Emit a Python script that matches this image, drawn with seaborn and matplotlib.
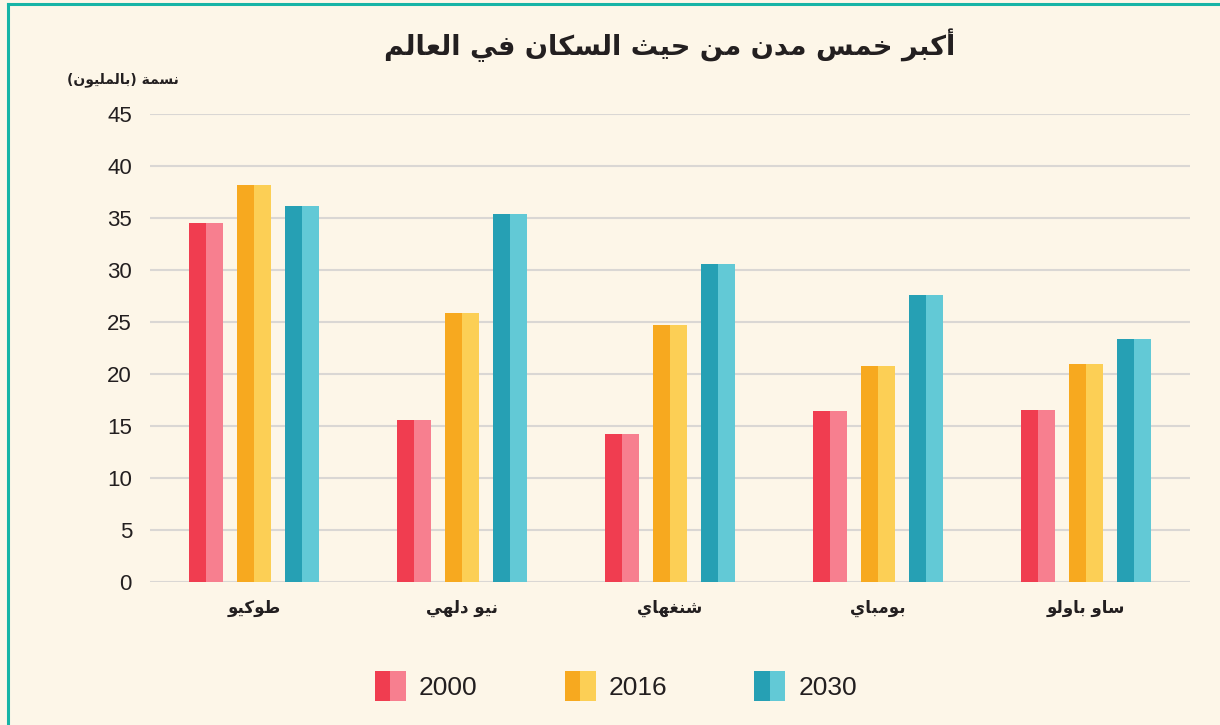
import matplotlib
matplotlib.use("Agg")
import matplotlib.pyplot as plt
from matplotlib.patches import Rectangle
from matplotlib.lines import Line2D
from matplotlib.legend_handler import HandlerTuple
import pandas as pd
import seaborn as sns

# ---- data ----
title_text = "أكبر خمس مدن من حيث السكان في العالم"
unit_text = "نسمة (بالمليون)"
cities = ["طوكيو", "نيو دلهي", "شنغهاي", "بومباي", "ساو باولو"]
years = ["2000", "2016", "2030"]
pop_2000 = [34.5, 15.6, 14.2, 16.4, 16.5]
pop_2016 = [38.2, 25.9, 24.7, 20.8, 21.0]
pop_2030 = [36.2, 35.4, 30.6, 27.6, 23.4]
y_ticks = [0, 5, 10, 15, 20, 25, 30, 35, 40, 45]

dark_colors = ["#f03d50", "#f7a91f", "#26a0b4"]
light_colors = ["#f77f8f", "#fccf55", "#62c9d6"]
bg = "#fdf6e8"
ink = "#231f20"
grid_c = "#dad7d4"
frame_c = "#17b4a6"

# ---- Arabic contextual shaping (isolated, final, initial, medial) ----
FORMS = {
    "\u0627": ("\uFE8D", "\uFE8E", None, None),
    "\u0623": ("\uFE83", "\uFE84", None, None),
    "\u0628": ("\uFE8F", "\uFE90", "\uFE91", "\uFE92"),
    "\u0629": ("\uFE93", "\uFE94", None, None),
    "\u062A": ("\uFE95", "\uFE96", "\uFE97", "\uFE98"),
    "\u062B": ("\uFE99", "\uFE9A", "\uFE9B", "\uFE9C"),
    "\u062D": ("\uFEA1", "\uFEA2", "\uFEA3", "\uFEA4"),
    "\u062E": ("\uFEA5", "\uFEA6", "\uFEA7", "\uFEA8"),
    "\u062F": ("\uFEA9", "\uFEAA", None, None),
    "\u0631": ("\uFEAD", "\uFEAE", None, None),
    "\u0633": ("\uFEB1", "\uFEB2", "\uFEB3", "\uFEB4"),
    "\u0634": ("\uFEB5", "\uFEB6", "\uFEB7", "\uFEB8"),
    "\u0637": ("\uFEC1", "\uFEC2", "\uFEC3", "\uFEC4"),
    "\u0639": ("\uFEC9", "\uFECA", "\uFECB", "\uFECC"),
    "\u063A": ("\uFECD", "\uFECE", "\uFECF", "\uFED0"),
    "\u0641": ("\uFED1", "\uFED2", "\uFED3", "\uFED4"),
    "\u0643": ("\uFED9", "\uFEDA", "\uFEDB", "\uFEDC"),
    "\u0644": ("\uFEDD", "\uFEDE", "\uFEDF", "\uFEE0"),
    "\u0645": ("\uFEE1", "\uFEE2", "\uFEE3", "\uFEE4"),
    "\u0646": ("\uFEE5", "\uFEE6", "\uFEE7", "\uFEE8"),
    "\u0647": ("\uFEE9", "\uFEEA", "\uFEEB", "\uFEEC"),
    "\u0648": ("\uFEED", "\uFEEE", None, None),
    "\u064A": ("\uFEF1", "\uFEF2", "\uFEF3", "\uFEF4"),
}
LAM_ALEF = {"\u0627": ("\uFEFB", "\uFEFC"), "\u0623": ("\uFEF7", "\uFEF8")}
MIRROR = {"(": ")", ")": "("}


def joins_forward(ch):
    return ch in FORMS and FORMS[ch][2] is not None


def shape_rtl(text):
    out = []
    i = 0
    n = len(text)
    while i < n:
        ch = text[i]
        prev = text[i - 1] if i > 0 else ""
        linked_prev = joins_forward(prev) and ch in FORMS
        if ch == "\u0644" and i + 1 < n and text[i + 1] in LAM_ALEF:
            out.append(LAM_ALEF[text[i + 1]][1 if linked_prev else 0])
            i += 2
            continue
        if ch in FORMS:
            nxt = text[i + 1] if i + 1 < n else ""
            linked_next = joins_forward(ch) and nxt in FORMS
            iso, fin, ini, med = FORMS[ch]
            if linked_prev and linked_next:
                out.append(med)
            elif linked_prev:
                out.append(fin)
            elif linked_next:
                out.append(ini)
            else:
                out.append(iso)
        else:
            out.append(ch)
        i += 1
    return "".join(MIRROR.get(c, c) for c in reversed(out))


city_labels = [shape_rtl(c) for c in cities]

df = pd.DataFrame({
    "city": city_labels * 3,
    "year": [y for y in years for _ in cities],
    "pop": pop_2000 + pop_2016 + pop_2030,
})

# ---- figure ----
sns.set_style("white")
plt.rcParams["font.family"] = ["Liberation Sans", "DejaVu Sans"]

fig = plt.figure(figsize=(12.2, 7.25), dpi=100, facecolor=bg)
ax = fig.add_axes([150 / 1220, 1 - 582 / 725, 1040 / 1220, 468 / 725])
ax.set_facecolor(bg)

sns.barplot(
    data=df, x="city", y="pop", hue="year", hue_order=years,
    palette=dict(zip(years, dark_colors)), saturation=1,
    width=0.692, gap=0.29, legend=False, linewidth=0, zorder=3, ax=ax,
)

# lighter right half of every bar
for container, light in zip(ax.containers, light_colors):
    for bar in container:
        x0, w, h = bar.get_x(), bar.get_width(), bar.get_height()
        ax.add_patch(Rectangle((x0 + w / 2, 0), w / 2, h, facecolor=light,
                               linewidth=0, zorder=3.5))

ax.set_xlim(-0.5, 4.5)
ax.set_ylim(0, 45)
ax.set_yticks(y_ticks)
ax.set_yticklabels([str(t) for t in y_ticks])
ax.grid(axis="y", color=grid_c, linewidth=1.5, zorder=0)
ax.grid(axis="x", visible=False)
ax.set_axisbelow(True)
for s in ax.spines.values():
    s.set_visible(False)
ax.set_xlabel("")
ax.set_ylabel("")
ax.tick_params(axis="y", length=0, pad=13, labelsize=16, labelcolor=ink)
ax.tick_params(axis="x", length=0, pad=12, labelcolor=ink)
for lab in ax.get_xticklabels():
    lab.set_fontfamily("DejaVu Sans")
    lab.set_fontweight("bold")
    lab.set_fontsize(12)

# title and unit label
fig.text(670 / 1220, 1 - 45 / 725, shape_rtl(title_text), ha="center",
         va="center", fontsize=19.6, fontweight="bold", color=ink,
         family="DejaVu Sans")
fig.text(123 / 1220, 1 - 80 / 725, shape_rtl(unit_text), ha="center",
         va="center", fontsize=10, fontweight="bold", color=ink,
         family="DejaVu Sans")

# legend with two-tone swatches
handles = [
    (Rectangle((0, 0), 1, 1, facecolor=d, linewidth=0),
     Rectangle((0, 0), 1, 1, facecolor=l, linewidth=0))
    for d, l in zip(dark_colors, light_colors)
]
leg = fig.legend(
    handles, years, handler_map={tuple: HandlerTuple(ndivide=None, pad=0)},
    loc="center", bbox_to_anchor=(616 / 1220, 1 - 686 / 725), ncol=3,
    frameon=False, fontsize=19, handlelength=1.17, handleheight=1.32,
    handletextpad=0.5, columnspacing=3.3,
)
for t in leg.get_texts():
    t.set_color(ink)

# frame on the top and left edges
lw = 2.2
fig.add_artist(Line2D([7.5 / 1220, 7.5 / 1220], [0, 1 - 3.5 / 725],
                      transform=fig.transFigure, color=frame_c, linewidth=lw,
                      solid_capstyle="projecting"))
fig.add_artist(Line2D([7.5 / 1220, 1], [1 - 3.5 / 725, 1 - 3.5 / 725],
                      transform=fig.transFigure, color=frame_c, linewidth=lw,
                      solid_capstyle="projecting"))

fig.savefig("out.png", dpi=100, facecolor=bg)
